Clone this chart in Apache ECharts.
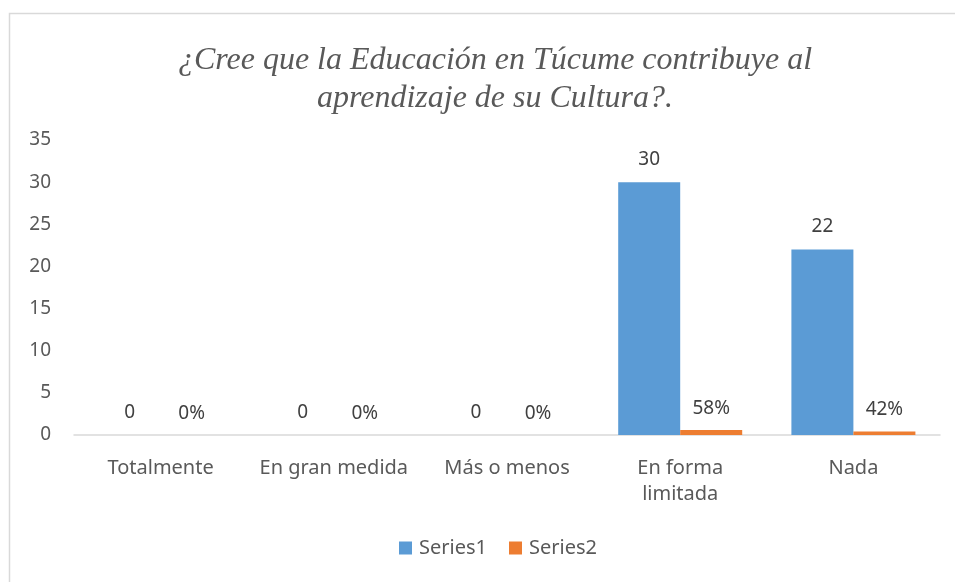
<!DOCTYPE html>
<html>
<head>
<meta charset="utf-8">
<script src="https://cdn.jsdelivr.net/npm/echarts@6/dist/echarts.min.js"></script>
<style>html,body{margin:0;padding:0;background:#fff}#c{width:955px;height:582px}</style>
</head>
<body>
<div id="c"></div>
<script>
const categories = ['Totalmente', 'En gran medida', 'Más o menos', 'En forma\nlimitada', 'Nada'];
const series1 = [0, 0, 0, 30, 22];
const series2 = [0, 0, 0, 0.58, 0.42];
const yTicks = [0, 5, 10, 15, 20, 25, 30, 35];
const titleText = '¿Cree que la Educación en Túcume contribuye al\naprendizaje de su Cultura?.';

const chart = echarts.init(document.getElementById('c'), null, {renderer: 'canvas'});
const labelFont = {fontFamily: 'Noto Sans', fontSize: 19, color: '#404040'};
chart.setOption({
  animation: false,
  backgroundColor: '#fff',
  graphic: [{
    type: 'rect', shape: {x: 9.5, y: 13.5, width: 1000, height: 700},
    style: {fill: 'none', stroke: '#d9d9d9', lineWidth: 1.5}, silent: true
  }],
  title: {
    text: titleText, left: 490, textAlign: 'center', top: 37,
    textStyle: {fontFamily: 'Liberation Serif', fontStyle: 'italic', fontWeight: 'normal', fontSize: 32, color: '#595959', lineHeight: 38}
  },
  legend: {
    bottom: 19, left: 394, itemWidth: 13, itemHeight: 13, itemGap: 22,
    icon: 'rect',
    textStyle: {fontFamily: 'Noto Sans', fontSize: 20, color: '#595959', padding: [0, 0, 0, 2]},
    data: ['Series1', 'Series2']
  },
  grid: {left: 74, right: 15, top: 140, bottom: 147, containLabel: false},
  xAxis: {
    type: 'category', data: categories,
    axisLine: {lineStyle: {color: '#d9d9d9', width: 1.5}},
    axisTick: {show: false},
    axisLabel: {fontFamily: 'Noto Sans', fontSize: 20, color: '#595959', margin: 20, lineHeight: 26, interval: 0}
  },
  yAxis: {
    type: 'value', min: 0, max: 35, interval: 5,
    axisLine: {show: false}, axisTick: {show: false},
    splitLine: {show: false},
    axisLabel: {fontFamily: 'Noto Sans', fontSize: 19, color: '#595959', margin: 23,
      formatter: v => yTicks.includes(v) ? String(v) : ''}
  },
  series: [
    {
      name: 'Series1', type: 'bar', data: series1, barWidth: 62, barGap: '0%',
      itemStyle: {color: '#5b9bd5'},
      label: {show: true, position: 'top', distance: 13, ...labelFont}
    },
    {
      name: 'Series2', type: 'bar', data: series2, barWidth: 62,
      itemStyle: {color: '#ed7d31'},
      label: {show: true, position: 'top', distance: 12, ...labelFont,
        formatter: p => Math.round(p.value * 100) + '%'}
    }
  ]
});
</script>
</body>
</html>
